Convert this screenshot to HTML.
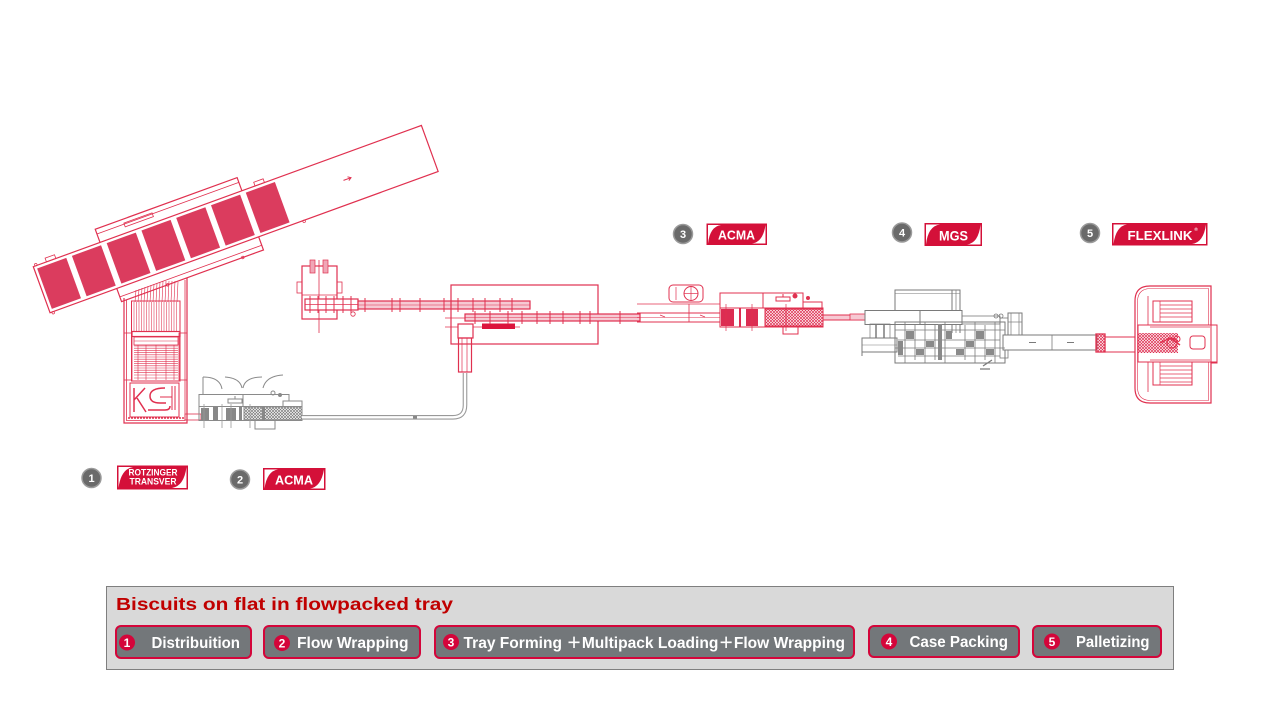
<!DOCTYPE html>
<html><head><meta charset="utf-8"><style>
html,body{margin:0;padding:0;background:#fff;}
svg{display:block;}
</style></head><body>
<svg width="1280" height="720" viewBox="0 0 1280 720" xmlns="http://www.w3.org/2000/svg" font-family="'Liberation Sans', 'Noto Sans CJK SC', sans-serif">
<defs>
<pattern id="hr" width="3" height="3" patternUnits="userSpaceOnUse"><path d="M0,0L3,3M3,0L0,3" stroke="#dd2c4f" stroke-width="0.7"/></pattern>
<pattern id="hg" width="3" height="3" patternUnits="userSpaceOnUse"><path d="M0,0L3,3M3,0L0,3" stroke="#7a7a7a" stroke-width="0.7"/></pattern>
</defs>
<rect width="1280" height="720" fill="#fff"/>

<!-- ========== Slanted belt conveyor ========== -->
<g transform="translate(33.3,266.7) rotate(-20)" stroke="#e0304f" fill="none" stroke-width="1.2">
  <rect x="71" y="-14" width="151" height="77"/>
  <line x1="71" y1="-9" x2="222" y2="-9" stroke-width="0.8"/>
  <line x1="71" y1="58" x2="222" y2="58" stroke-width="0.8"/>
  <rect x="100" y="-10" width="30" height="4" stroke-width="0.8"/>
  <rect x="0" y="0" width="413" height="49" fill="#fff"/>
  <g fill="#db3c5e" stroke="none">
    <rect x="3" y="3" width="31" height="43"/>
    <rect x="40" y="3" width="31" height="43"/>
    <rect x="77" y="3" width="31" height="43"/>
    <rect x="114" y="3" width="31" height="43"/>
    <rect x="151" y="3" width="31" height="43"/>
    <rect x="188" y="3" width="31" height="43"/>
    <rect x="225" y="3" width="31" height="43"/>
  </g>
  <rect x="14" y="-4" width="10" height="4" stroke-width="0.8"/>
  <rect x="236" y="-4" width="10" height="4" stroke-width="0.8"/>
  <circle cx="3" cy="-1" r="1.3" stroke-width="0.7"/>
  <circle cx="3" cy="50" r="1.3" stroke-width="0.7"/>
  <circle cx="120" cy="63" r="1.3" stroke-width="0.7"/>
  <circle cx="200" cy="63" r="1.3" stroke-width="0.7"/>
  <circle cx="270" cy="50" r="1.3" stroke-width="0.7"/>
  <path d="M321,25 L329,25 M326,23 L329,25 L326,27" stroke-width="1"/>
</g>

<!-- fan between belt and accumulator -->
<g stroke="#e0304f" stroke-width="0.6">
  <line x1="136" y1="290" x2="135" y2="302"/><line x1="139" y1="289" x2="138" y2="302"/>
  <line x1="142" y1="288" x2="141" y2="302"/><line x1="145" y1="287" x2="144" y2="302"/>
  <line x1="148" y1="286" x2="147" y2="302"/><line x1="151" y1="285" x2="150" y2="302"/>
  <line x1="154" y1="284" x2="153" y2="302"/><line x1="157" y1="283" x2="156" y2="302"/>
  <line x1="160" y1="282" x2="159" y2="302"/><line x1="163" y1="281" x2="162" y2="302"/>
  <line x1="166" y1="281" x2="165" y2="302"/><line x1="169" y1="281" x2="168" y2="302"/>
  <line x1="172" y1="281" x2="171" y2="302"/><line x1="175" y1="281" x2="174" y2="302"/>
  <line x1="178" y1="282" x2="177" y2="302"/>
</g>

<!-- ========== Accumulator (vertical) ========== -->
<g stroke="#e0304f" fill="none" stroke-width="1.2">
  <path d="M124,298 L124,423 L187,423 L187,278"/>
  <path d="M126.5,300 L126.5,420.5 L185,420.5 L185,280" stroke-width="0.8"/>
  <rect x="124" y="333" width="8" height="47" stroke-width="0.8"/>
  <rect x="179" y="333" width="8" height="47" stroke-width="0.8"/>
  <rect x="131.5" y="301" width="48.5" height="80" stroke-width="1"/>
</g>
<g stroke="#e0304f" stroke-width="0.55">
  <line x1="134" y1="302" x2="134" y2="331"/><line x1="136.5" y1="302" x2="136.5" y2="331"/>
  <line x1="139" y1="302" x2="139" y2="331"/><line x1="141.5" y1="302" x2="141.5" y2="331"/>
  <line x1="144" y1="302" x2="144" y2="331"/><line x1="146.5" y1="302" x2="146.5" y2="331"/>
  <line x1="149" y1="302" x2="149" y2="331"/><line x1="151.5" y1="302" x2="151.5" y2="331"/>
  <line x1="154" y1="302" x2="154" y2="331"/><line x1="156.5" y1="302" x2="156.5" y2="331"/>
  <line x1="159" y1="302" x2="159" y2="331"/><line x1="161.5" y1="302" x2="161.5" y2="331"/>
  <line x1="164" y1="302" x2="164" y2="331"/><line x1="166.5" y1="302" x2="166.5" y2="331"/>
  <line x1="169" y1="302" x2="169" y2="331"/><line x1="171.5" y1="302" x2="171.5" y2="331"/>
  <line x1="174" y1="302" x2="174" y2="331"/><line x1="176.5" y1="302" x2="176.5" y2="331"/>
</g>
<g stroke="#e0304f" fill="none">
  <rect x="132" y="331.5" width="48" height="5" stroke-width="1.2"/>
  <rect x="134" y="337" width="44" height="8" stroke-width="0.8"/>
  <line x1="134" y1="341" x2="178" y2="341" stroke-width="0.6"/>
</g>
<g stroke="#e0304f" stroke-width="0.6">
  <line x1="134" y1="346" x2="178" y2="346"/><line x1="134" y1="348.2" x2="178" y2="348.2"/>
  <line x1="134" y1="350.4" x2="178" y2="350.4"/><line x1="134" y1="352.6" x2="178" y2="352.6"/>
  <line x1="134" y1="354.8" x2="178" y2="354.8"/><line x1="134" y1="357" x2="178" y2="357"/>
  <line x1="134" y1="359.2" x2="178" y2="359.2"/><line x1="134" y1="361.4" x2="178" y2="361.4"/>
  <line x1="134" y1="363.6" x2="178" y2="363.6"/><line x1="134" y1="365.8" x2="178" y2="365.8"/>
  <line x1="134" y1="368" x2="178" y2="368"/><line x1="134" y1="370.2" x2="178" y2="370.2"/>
  <line x1="134" y1="372.4" x2="178" y2="372.4"/><line x1="134" y1="375" x2="178" y2="375"/>
  <line x1="134" y1="378" x2="178" y2="378"/>
  <line x1="138" y1="345" x2="138" y2="380"/><line x1="146" y1="345" x2="146" y2="380"/>
  <line x1="156" y1="345" x2="156" y2="380"/><line x1="166" y1="345" x2="166" y2="380"/>
  <line x1="174" y1="345" x2="174" y2="380"/>
</g>
<!-- KS logo area -->
<g stroke="#e0304f" fill="none" stroke-width="1">
  <rect x="130" y="383" width="49" height="34"/>
  <path d="M134,388 L134,412 M134,400 L145,388 M137,398 L146,412" stroke-width="1.5"/>
  <path d="M165,388 Q150,388 150,396 Q150,403 160,403 L166,403 M148,410 L165,410 Q170,410 170,406" stroke-width="1.5"/>
  <line x1="160" y1="397" x2="172" y2="397"/>
  <line x1="172" y1="386" x2="172" y2="410"/><line x1="175" y1="386" x2="175" y2="410"/>
  <line x1="128" y1="418" x2="184" y2="418" stroke-dasharray="2,1" stroke-width="1.5"/>
  <rect x="185" y="414" width="16" height="6" stroke-width="0.8"/>
</g>

<!-- ========== Machine 2 (gray) ========== -->
<g stroke="#8a8a8a" fill="none" stroke-width="1">
  <path d="M203,377 Q220,377 222,389"/>
  <path d="M225,377 Q240,378 242,388"/>
  <path d="M243,388 Q245,377 262,377"/>
  <path d="M263,388 Q266,376 283,375"/>
  <line x1="203" y1="377" x2="203" y2="395"/>
  <rect x="199" y="394.5" width="90" height="12" fill="#fff"/>
  <line x1="243" y1="394.5" x2="243" y2="406.5"/>
  <rect x="283" y="401" width="19" height="6" fill="#fff"/>
  <rect x="228" y="399" width="14" height="4"/>
  <line x1="235" y1="396" x2="235" y2="399"/>
  <circle cx="273" cy="393" r="2"/>
  <circle cx="280" cy="395" r="1.5" fill="#8a8a8a"/>
  <rect x="199" y="406.5" width="103" height="14"/>
  <rect x="244" y="407" width="58" height="13" fill="url(#hg)"/>
  <rect x="255" y="420" width="20" height="9"/>
</g>
<g fill="#888">
  <rect x="201" y="408" width="8" height="12"/>
  <rect x="213" y="407" width="5" height="14"/>
  <rect x="226" y="408" width="10" height="12"/>
  <rect x="239" y="406" width="3" height="15"/>
  <rect x="262" y="407" width="3" height="14"/>
</g>
<g stroke="#9a9a9a" stroke-width="0.8">
  <line x1="204" y1="404" x2="204" y2="428"/><line x1="222" y1="404" x2="222" y2="428"/>
  <line x1="231" y1="404" x2="231" y2="428"/><line x1="250" y1="404" x2="250" y2="428"/>
</g>

<!-- gray conveyor 2 -> 3 -->
<path d="M302,417.3 L453,417.3 Q465,417.3 465,405 L465,373" fill="none" stroke="#999" stroke-width="4.6"/>
<path d="M302,417.3 L453,417.3 Q465,417.3 465,405 L465,373" fill="none" stroke="#fff" stroke-width="2.4"/>
<rect x="413" y="416" width="4" height="2.5" fill="#888"/>

<!-- ========== Middle red section ========== -->
<g stroke="#e0304f" fill="none" stroke-width="1.2">
  <rect x="302" y="266" width="35" height="53"/>
  <line x1="302" y1="295" x2="337" y2="295" stroke-width="0.8"/>
  <rect x="297" y="282" width="5" height="11" stroke-width="0.8"/>
  <rect x="337" y="282" width="5" height="11" stroke-width="0.8"/>
  <rect x="310" y="260" width="5" height="13" fill="#f0a6b6" stroke-width="0.7"/>
  <rect x="323" y="260" width="5" height="13" fill="#f0a6b6" stroke-width="0.7"/>
  <line x1="319" y1="260" x2="319" y2="333" stroke-width="0.8"/>
  <rect x="305" y="299" width="53" height="11" fill="#fff"/>
  <line x1="305" y1="304.5" x2="358" y2="304.5" stroke-width="0.7"/>
  <rect x="358" y="301" width="172" height="8" fill="#f6c9d3"/>
  <line x1="358" y1="305" x2="530" y2="305" stroke-width="0.6"/>
  <circle cx="353" cy="314" r="2.2" stroke-width="0.8"/>
  <rect x="451" y="285" width="147" height="59"/>
  <rect x="465" y="314" width="175" height="7" fill="#f6c9d3"/>
  <line x1="465" y1="317.5" x2="640" y2="317.5" stroke-width="0.6"/>
  <line x1="445" y1="318" x2="465" y2="318" stroke-width="0.8"/>
  <line x1="445" y1="327" x2="520" y2="327" stroke-width="0.8"/>
  <rect x="458" y="324" width="15" height="14" fill="#fff"/>
  <rect x="458.5" y="338" width="13" height="34"/>
  <line x1="462" y1="338" x2="462" y2="372" stroke-width="0.7"/>
  <line x1="467" y1="338" x2="467" y2="372" stroke-width="0.7"/>
</g>
<rect x="482" y="323.5" width="33" height="5.5" fill="#dc143c"/>
<g stroke="#e0304f" stroke-width="1">
  <line x1="310" y1="296" x2="310" y2="313"/><line x1="318" y1="296" x2="318" y2="313"/>
  <line x1="326" y1="296" x2="326" y2="313"/><line x1="334" y1="296" x2="334" y2="313"/>
  <line x1="343" y1="296" x2="343" y2="313"/><line x1="351" y1="296" x2="351" y2="313"/>
  <line x1="365" y1="298" x2="365" y2="312"/><line x1="392" y1="298" x2="392" y2="312"/>
  <line x1="400" y1="298" x2="400" y2="312"/><line x1="420" y1="298" x2="420" y2="312"/>
  <line x1="444" y1="298" x2="444" y2="312"/><line x1="458" y1="298" x2="458" y2="312"/>
  <line x1="473" y1="298" x2="473" y2="312"/><line x1="485" y1="298" x2="485" y2="312"/>
  <line x1="500" y1="298" x2="500" y2="312"/><line x1="512" y1="298" x2="512" y2="312"/>
  <line x1="475" y1="311" x2="475" y2="324"/><line x1="490" y1="311" x2="490" y2="324"/>
  <line x1="508" y1="311" x2="508" y2="324"/><line x1="522" y1="311" x2="522" y2="324"/>
  <line x1="537" y1="311" x2="537" y2="324"/><line x1="550" y1="311" x2="550" y2="324"/>
  <line x1="563" y1="311" x2="563" y2="324"/><line x1="580" y1="311" x2="580" y2="324"/>
  <line x1="590" y1="311" x2="590" y2="324"/><line x1="620" y1="311" x2="620" y2="324"/>
</g>

<!-- ========== Machine 3 (red) ========== -->
<g stroke="#e0304f" fill="none" stroke-width="1">
  <rect x="669" y="285" width="34" height="17" rx="4"/>
  <circle cx="691" cy="293.5" r="7"/>
  <line x1="684" y1="293.5" x2="698" y2="293.5" stroke-width="0.7"/>
  <line x1="691" y1="286.5" x2="691" y2="300.5" stroke-width="0.7"/>
  <line x1="676" y1="287" x2="676" y2="300" stroke-width="0.7"/>
  <line x1="637" y1="304" x2="720" y2="304" stroke-width="0.8"/>
  <line x1="689" y1="304" x2="689" y2="322" stroke-width="0.8"/>
  <line x1="637" y1="313" x2="720" y2="313"/>
  <line x1="637" y1="322" x2="720" y2="322"/>
  <line x1="637" y1="317.5" x2="720" y2="317.5" stroke-width="0.6"/>
  <rect x="720" y="293" width="43" height="15" fill="#fff"/>
  <rect x="763" y="293" width="40" height="15" fill="#fff"/>
  <rect x="776" y="297" width="14" height="4"/>
  <line x1="783" y1="294" x2="783" y2="297"/>
  <rect x="803" y="302" width="19" height="6"/>
  <circle cx="795" cy="296" r="2" fill="#e0304f"/>
  <circle cx="808" cy="298" r="1.5" fill="#e0304f"/>
  <rect x="720" y="308" width="103" height="19"/>
  <rect x="765" y="309" width="58" height="17" fill="url(#hr)"/>
  <rect x="783" y="327" width="15" height="7"/>
  <rect x="823" y="315" width="44" height="5" fill="#f6c9d3"/>
</g>
<g fill="#dc2d52">
  <rect x="721" y="309" width="13" height="17"/>
  <rect x="746" y="309" width="12" height="17"/>
  <rect x="739" y="308" width="2" height="19"/>
</g>
<g stroke="#e0304f" stroke-width="0.7">
  <line x1="660" y1="315" x2="665" y2="317"/><line x1="700" y1="315" x2="705" y2="317"/>
  <line x1="726" y1="304" x2="726" y2="331"/><line x1="752" y1="304" x2="752" y2="331"/>
  <line x1="786" y1="304" x2="786" y2="331"/>
</g>

<!-- ========== Machine 4 (gray) ========== -->
<rect x="850" y="314" width="15" height="6" fill="#f6c9d3" stroke="#e0304f" stroke-width="0.8"/>
<g stroke="#7a7a7a" fill="none" stroke-width="1">
  <rect x="895" y="290" width="65" height="22" fill="#fff"/>
  <line x1="895" y1="293.5" x2="960" y2="293.5" stroke-width="0.6"/>
  <line x1="952" y1="290" x2="952" y2="333"/>
  <line x1="956" y1="290" x2="956" y2="333" stroke-width="0.7"/>
  <line x1="960" y1="296" x2="960" y2="333"/>
  <rect x="865" y="310.5" width="97" height="14" fill="#fff"/>
  <line x1="920" y1="310" x2="920" y2="324"/>
  <rect x="895" y="322" width="110" height="41"/>
  <rect x="862" y="338" width="35" height="14"/>
  <line x1="862" y1="345" x2="897" y2="345" stroke-width="0.6"/>
  <line x1="862" y1="338" x2="862" y2="356"/>
  <rect x="870" y="324" width="20" height="14" stroke-width="0.7"/>
  <line x1="876" y1="324" x2="876" y2="338" stroke-width="1.5"/>
  <line x1="884" y1="324" x2="884" y2="338" stroke-width="1.5"/>
  <rect x="962" y="316" width="38" height="8" stroke-width="0.8"/>
  <rect x="1000" y="318" width="8" height="40" stroke-width="0.8"/>
  <rect x="1008" y="313" width="14" height="22"/>
  <line x1="1011" y1="313" x2="1011" y2="335" stroke-width="0.7"/>
  <line x1="1019" y1="313" x2="1019" y2="335" stroke-width="0.7"/>
  <line x1="1008" y1="322" x2="1022" y2="322" stroke-width="0.7"/>
  <circle cx="996" cy="316" r="2" stroke-width="0.8"/>
  <circle cx="1001" cy="316" r="2" stroke-width="0.8"/>
  <rect x="1003" y="335" width="94" height="15" fill="#fff"/>
  <line x1="1052" y1="335" x2="1052" y2="350" stroke-width="0.8"/>
  <path d="M1029,342.5 L1036,342.5 M1067,342.5 L1074,342.5" stroke-width="1"/>
  <path d="M983,366 L992,360 M980,369 L990,369" stroke-width="1.2"/>
</g>
<g stroke="#7a7a7a" stroke-width="0.8" fill="none">
  <line x1="905" y1="322" x2="905" y2="363"/><line x1="915" y1="325" x2="915" y2="360"/>
  <line x1="925" y1="322" x2="925" y2="363"/><line x1="935" y1="325" x2="935" y2="360"/>
  <line x1="945" y1="322" x2="945" y2="363"/><line x1="965" y1="325" x2="965" y2="360"/>
  <line x1="975" y1="322" x2="975" y2="363"/><line x1="985" y1="325" x2="985" y2="360"/>
  <line x1="995" y1="322" x2="995" y2="363"/>
  <line x1="895" y1="330" x2="1005" y2="330"/><line x1="898" y1="340" x2="1000" y2="340"/>
  <line x1="895" y1="348" x2="1005" y2="348"/><line x1="898" y1="356" x2="1000" y2="356"/>
</g>
<g fill="#8a8a8a">
  <rect x="906" y="331" width="8" height="8"/><rect x="926" y="341" width="8" height="6"/>
  <rect x="946" y="331" width="6" height="8"/><rect x="966" y="341" width="8" height="6"/>
  <rect x="986" y="349" width="8" height="6"/><rect x="916" y="349" width="8" height="6"/>
  <rect x="956" y="349" width="8" height="6"/><rect x="976" y="331" width="8" height="8"/>
  <rect x="938" y="324" width="4" height="36"/><rect x="898" y="341" width="5" height="14"/>
</g>

<!-- ========== Palletizer (red) ========== -->
<g stroke="#e0304f" fill="none" stroke-width="1">
  <rect x="1096" y="334" width="9" height="18" fill="url(#hr)"/>
  <rect x="1096" y="334" width="9" height="18" stroke-width="1.3"/>
  <rect x="1105" y="337" width="30" height="15"/>
  <path d="M1150,286 L1211,286 L1211,403 L1150,403 Q1135,403 1135,388 L1135,301 Q1135,286 1150,286 Z" stroke-width="1.2"/>
  <path d="M1151,288.5 L1208.5,288.5 L1208.5,400.5 L1151,400.5 Q1137.5,400.5 1137.5,387 L1137.5,302 Q1137.5,288.5 1151,288.5 Z" stroke-width="0.6"/>
  <rect x="1138" y="325" width="79" height="37" fill="#fff"/>
  <rect x="1211" y="325" width="6" height="38"/>
  <rect x="1138" y="333" width="40" height="20" fill="url(#hr)" stroke="none"/>
  <circle cx="1172" cy="343" r="5"/>
  <circle cx="1177" cy="339" r="3"/>
  <path d="M1160,343 L1170,338 L1180,345" stroke-width="1.4"/>
  <rect x="1190" y="336" width="15" height="13" rx="3"/>
  <rect x="1153" y="301" width="39" height="21"/>
  <rect x="1153" y="362" width="39" height="23"/>
  <line x1="1148" y1="296" x2="1148" y2="325" stroke-width="0.8"/>
  <line x1="1148" y1="362" x2="1148" y2="392" stroke-width="0.8"/>
</g>
<g stroke="#e0304f" stroke-width="0.7">
  <line x1="1160" y1="301" x2="1160" y2="322"/><line x1="1160" y1="362" x2="1160" y2="385"/>
  <line x1="1160" y1="305" x2="1192" y2="305"/><line x1="1160" y1="309" x2="1192" y2="309"/>
  <line x1="1160" y1="313" x2="1192" y2="313"/><line x1="1160" y1="317" x2="1192" y2="317"/>
  <line x1="1160" y1="366" x2="1192" y2="366"/><line x1="1160" y1="370" x2="1192" y2="370"/>
  <line x1="1160" y1="374" x2="1192" y2="374"/><line x1="1160" y1="378" x2="1192" y2="378"/>
  <line x1="1160" y1="382" x2="1192" y2="382"/>
  <line x1="1150" y1="327" x2="1210" y2="327"/><line x1="1150" y1="360" x2="1210" y2="360"/>
</g>

<!-- ========== Badges & number circles ========== -->
<g font-weight="bold" text-anchor="middle">
  <!-- 1 -->
  <circle cx="91.5" cy="478" r="9.5" fill="#6a6a6a" stroke="#9a9a9a" stroke-width="1.5"/>
  <text x="91.5" y="482" font-size="11" fill="#fff">1</text>
  <rect x="117" y="465.5" width="71" height="24" fill="#d41039"/>
  <path d="M118.5,467 L133,467 Q121,469 118.5,488 Z" fill="#fff"/>
  <path d="M186.5,488 L172,488 Q184,486 186.5,467 Z" fill="#fff"/>
  <text x="153" y="475.5" font-size="9" fill="#fff" textLength="49" lengthAdjust="spacingAndGlyphs">ROTZINGER</text>
  <text x="153" y="484.5" font-size="9" fill="#fff" textLength="47" lengthAdjust="spacingAndGlyphs">TRANSVER</text>
  <!-- 2 -->
  <circle cx="240" cy="479.5" r="9.5" fill="#6a6a6a" stroke="#9a9a9a" stroke-width="1.5"/>
  <text x="240" y="483.5" font-size="11" fill="#fff">2</text>
  <rect x="263" y="468" width="62.5" height="22" fill="#d41039"/>
  <path d="M264.5,469.5 L278,469.5 Q267,471 264.5,488.5 Z" fill="#fff"/>
  <path d="M324,488.5 L310,488.5 Q321,487 324,469.5 Z" fill="#fff"/>
  <text x="294" y="484.5" font-size="13" fill="#fff" textLength="38" lengthAdjust="spacingAndGlyphs">ACMA</text>
  <!-- 3 -->
  <circle cx="683" cy="234" r="9.5" fill="#6a6a6a" stroke="#9a9a9a" stroke-width="1.5"/>
  <text x="683" y="238" font-size="11" fill="#fff">3</text>
  <rect x="706.5" y="223.5" width="60.5" height="21.5" fill="#d41039"/>
  <path d="M708,225 L721,225 Q710,226.5 708,243.5 Z" fill="#fff"/>
  <path d="M765.5,243.5 L752,243.5 Q763,242 765.5,225 Z" fill="#fff"/>
  <text x="736.5" y="239.5" font-size="13" fill="#fff" textLength="37" lengthAdjust="spacingAndGlyphs">ACMA</text>
  <!-- 4 -->
  <circle cx="902" cy="232.5" r="9.5" fill="#6a6a6a" stroke="#9a9a9a" stroke-width="1.5"/>
  <text x="902" y="236.5" font-size="11" fill="#fff">4</text>
  <rect x="924.5" y="223" width="57.5" height="23" fill="#d41039"/>
  <path d="M926,224.5 L940,224.5 Q928,226 926,244.5 Z" fill="#fff"/>
  <path d="M980.5,244.5 L967,244.5 Q978.5,243 980.5,224.5 Z" fill="#fff"/>
  <text x="953.5" y="240.5" font-size="13.5" fill="#fff" textLength="29" lengthAdjust="spacingAndGlyphs">MGS</text>
  <!-- 5 -->
  <circle cx="1090" cy="233" r="9.5" fill="#6a6a6a" stroke="#9a9a9a" stroke-width="1.5"/>
  <text x="1090" y="237" font-size="11" fill="#fff">5</text>
  <rect x="1112" y="223" width="95.5" height="22.5" fill="#d41039"/>
  <path d="M1113.5,224.5 L1127,224.5 Q1116,226 1113.5,244 Z" fill="#fff"/>
  <path d="M1206,244 L1192,244 Q1203.5,242.5 1206,224.5 Z" fill="#fff"/>
  <text x="1160" y="240" font-size="13" fill="#fff" textLength="65" lengthAdjust="spacingAndGlyphs">FLEXLINK</text>
  <text x="1196" y="231" font-size="4.5" fill="#fff">®</text>
</g>

<!-- ========== Legend ========== -->
<rect x="106.5" y="586.5" width="1067" height="83" fill="#d9d9d9" stroke="#7f7f7f" stroke-width="1"/>
<text x="116" y="610" font-size="17.5" font-weight="bold" fill="#c00000" textLength="337" lengthAdjust="spacingAndGlyphs">Biscuits on flat in flowpacked tray</text>

<g stroke="#d4053a" stroke-width="2" fill="#73777a">
  <rect x="116" y="626" width="135" height="32" rx="5"/>
  <rect x="264" y="626" width="156" height="32" rx="5"/>
  <rect x="435" y="626" width="419" height="32" rx="5"/>
  <rect x="869" y="626" width="150" height="31" rx="5"/>
  <rect x="1033" y="626" width="128" height="31" rx="5"/>
</g>
<g fill="#d4053a">
  <circle cx="127" cy="642.5" r="8"/>
  <circle cx="282" cy="643" r="8"/>
  <circle cx="451" cy="642" r="8"/>
  <circle cx="889" cy="641.5" r="8"/>
  <circle cx="1052" cy="641.5" r="8"/>
</g>
<g fill="#fff" font-weight="bold" font-size="12" text-anchor="middle">
  <text x="127" y="647">1</text>
  <text x="282" y="647.5">2</text>
  <text x="451" y="646.5">3</text>
  <text x="889" y="646">4</text>
  <text x="1052" y="646">5</text>
</g>
<g fill="#fff" font-weight="bold" font-size="15.5">
  <text x="151.5" y="648" textLength="88.5" lengthAdjust="spacingAndGlyphs">Distribuition</text>
  <text x="297" y="648" textLength="111.5" lengthAdjust="spacingAndGlyphs">Flow Wrapping</text>
  <text x="463.5" y="648" textLength="381.5" lengthAdjust="spacingAndGlyphs">Tray Forming ＋Multipack Loading＋Flow Wrapping</text>
  <text x="909.5" y="647" textLength="98.5" lengthAdjust="spacingAndGlyphs">Case Packing</text>
  <text x="1076" y="647" textLength="73.5" lengthAdjust="spacingAndGlyphs">Palletizing</text>
</g>
</svg>
</body></html>
